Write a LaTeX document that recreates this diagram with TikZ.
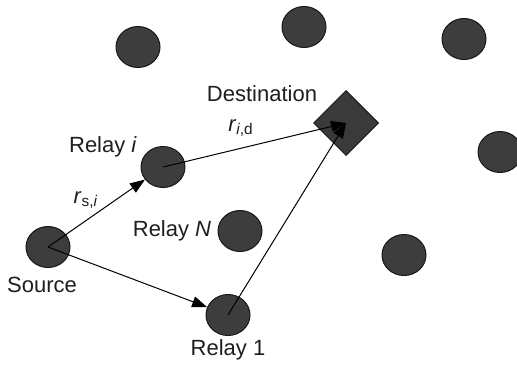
\documentclass[tikz,border=0pt]{standalone}
\usepackage{fontspec}
\setmainfont{Liberation Sans}
\usetikzlibrary{shapes.geometric,arrows.meta}
\begin{document}
\begin{tikzpicture}[x=0.5pt,y=-0.5pt,
  nodefill/.style={ellipse,inner sep=0pt,minimum width=22pt,minimum height=20.5pt,
    fill={rgb,255:red,61;green,61;blue,61},draw={rgb,255:red,25;green,25;blue,25},line width=0.5pt},
  destbox/.style={diamond,inner sep=0pt,minimum width=32.5pt,minimum height=32.5pt,
    fill={rgb,255:red,58;green,58;blue,58},draw={rgb,255:red,25;green,25;blue,25},line width=0.5pt},
  lbl/.style={inner sep=0pt,font=\fontsize{11}{13}\selectfont,text={rgb,255:red,30;green,30;blue,30}},
  arr/.style={line width=0.5pt,draw=black,-{Triangle[length=7.5pt,width=5.5pt]}}]
\useasboundingbox (0,0) rectangle (517,364);
% nodes
\node[nodefill] (n1) at (138,47) {};
\node[nodefill] (n2) at (304,27) {};
\node[nodefill] (n3) at (464,39) {};
\node[nodefill] (n4) at (500,152) {};
\node[nodefill] (n5) at (404,255) {};
\node[nodefill] (ri) at (163,167) {};
\node[nodefill] (rn) at (240,231) {};
\node[nodefill] (src) at (48,247) {};
\node[nodefill] (r1) at (228,315) {};
\node[destbox] (dst) at (346,123) {};
% connectors
\draw[arr] (src.center) -- (ri);
\draw[arr] (src.center) -- (r1);
\draw[arr] (ri.center) -- (dst.center);
\draw[arr] (r1.center) -- (dst.center);
% labels
\node[lbl] (ldst) at (262,94) {Destination};
\node[lbl] (lri) at (103,147) {Relay \textit{i}};
\node[lbl] (lrn) at (172,231) {Relay \textit{N}};
\node[lbl] (lsrc) at (42,285) {Source};
\node[lbl] (lr1) at (228,350) {Relay 1};
\node[lbl] (lrsi) at (86,200) {\textit{r}\textsubscript{s,\textit{i}}};
\node[lbl] (lrid) at (241,128) {\textit{r}\textsubscript{\textit{i},d}};
\end{tikzpicture}
\end{document}
